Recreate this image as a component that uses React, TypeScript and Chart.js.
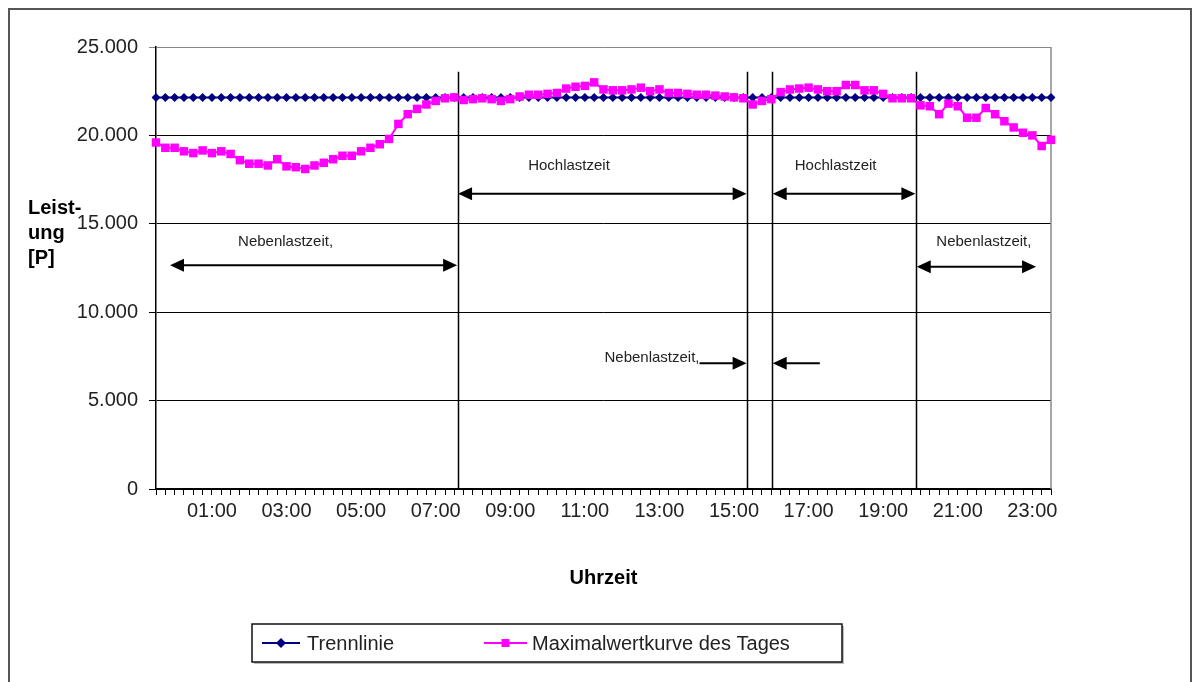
import { useEffect, useRef } from 'react';
import { Chart, registerables } from 'chart.js';

Chart.register(...registerables);

// Categories: 15-minute steps, first category is 23:30 (so 01:00 falls on index 6)
const timeLabels: string[] = [];
for (let i = 0; i <= 96; i++) {
  const m = ((i - 2) * 15 + 1440) % 1440;
  timeLabels.push(String(Math.floor(m / 60)).padStart(2, '0') + ':' + String(m % 60).padStart(2, '0'));
}

const trennlinie = [
  22150, 22150, 22150, 22150, 22150, 22150, 22150, 22150, 22150, 22150,
  22150, 22150, 22150, 22150, 22150, 22150, 22150, 22150, 22150, 22150,
  22150, 22150, 22150, 22150, 22150, 22150, 22150, 22150, 22150, 22150,
  22150, 22150, 22150, 22150, 22150, 22150, 22150, 22150, 22150, 22150,
  22150, 22150, 22150, 22150, 22150, 22150, 22150, 22150, 22150, 22150,
  22150, 22150, 22150, 22150, 22150, 22150, 22150, 22150, 22150, 22150,
  22150, 22150, 22150, 22150, 22150, 22150, 22150, 22150, 22150, 22150,
  22150, 22150, 22150, 22150, 22150, 22150, 22150, 22150, 22150, 22150,
  22150, 22150, 22150, 22150, 22150, 22150, 22150, 22150, 22150, 22150,
  22150, 22150, 22150, 22150, 22150, 22150, 22150,
];

const maximalwert = [
  19600, 19300, 19300, 19100, 19000, 19150, 19000, 19100, 18950, 18600,
  18400, 18400, 18300, 18650, 18250, 18200, 18100, 18300, 18450, 18650,
  18850, 18850, 19100, 19300, 19500, 19800, 20650, 21200, 21500, 21750,
  21950, 22100, 22150, 22000, 22050, 22100, 22050, 21950, 22050, 22200,
  22300, 22300, 22350, 22400, 22650, 22750, 22800, 23000, 22600, 22550,
  22550, 22600, 22700, 22500, 22600, 22400, 22400, 22350, 22300, 22300,
  22250, 22200, 22150, 22100, 21750, 21950, 22050, 22450, 22600, 22650,
  22700, 22600, 22500, 22500, 22850, 22850, 22550, 22550, 22350, 22100,
  22100, 22100, 21700, 21650, 21200, 21800, 21650, 21000, 21000, 21550,
  21200, 20800, 20450, 20150, 20000, 19400, 19750,
];

const seriesNames = ['Trennlinie', 'Maximalwertkurve des Tages'];

// Vertical separators (category index positions) and their top value
const dividerIdx = [32.35, 63.4, 66.1, 81.5];
const dividerTop = 23600;

// Period labels: [text, category index, value, align]
const periodLabels: [string, number, number, CanvasTextAlign][] = [
  ['Nebenlastzeit,', 13.9, 14000, 'center'],
  ['Hochlastzeit', 44.3, 18300, 'center'],
  ['Hochlastzeit', 72.9, 18300, 'center'],
  ['Nebenlastzeit,', 88.8, 14000, 'center'],
  ['Nebenlastzeit,', 58.3, 7400, 'right'],
];

// Double arrows: [from index, to index, value]
const doubleArrows: [number, number, number][] = [
  [1.5, 32.3, 12650],
  [32.4, 63.35, 16700],
  [66.15, 81.45, 16700],
  [81.6, 94.4, 12570],
];

// Single arrows: [tail index, head index, value]
const singleArrows: [number, number, number][] = [
  [58.3, 63.35, 7110],
  [71.2, 66.15, 7110],
];

const FONT = '"Liberation Sans", Arial, sans-serif';
const NAVY = '#000080';
const MAGENTA = '#FF00FF';

function fmt(v: number): string {
  return String(v).replace(/\B(?=(\d{3})+(?!\d))/g, '.');
}

function arrowHead(ctx: CanvasRenderingContext2D, tipX: number, y: number, dir: number) {
  const len = 14;
  const half = 6.5;
  ctx.beginPath();
  ctx.moveTo(tipX, y);
  ctx.lineTo(tipX - dir * len, y - half);
  ctx.lineTo(tipX - dir * len, y + half);
  ctx.closePath();
  ctx.fill();
}

const annoPlugin = {
  id: 'annoPlugin',
  beforeDatasetsDraw(chart: any) {
    const { ctx, chartArea, scales } = chart;
    const xs = scales.x;
    const ys = scales.y;
    ctx.save();
    // right plot border
    ctx.strokeStyle = '#888';
    ctx.lineWidth = 1.5;
    ctx.beginPath();
    ctx.moveTo(chartArea.right, chartArea.top);
    ctx.lineTo(chartArea.right, chartArea.bottom);
    ctx.stroke();
    // dividers
    ctx.strokeStyle = '#000';
    ctx.lineWidth = 1.5;
    dividerIdx.forEach((d) => {
      const x = Math.round(xs.getPixelForValue(d)) + 0.5;
      ctx.beginPath();
      ctx.moveTo(x, ys.getPixelForValue(dividerTop));
      ctx.lineTo(x, ys.getPixelForValue(0));
      ctx.stroke();
    });
    ctx.restore();
  },
  afterDraw(chart: any) {
    const { ctx, chartArea, scales } = chart;
    const xs = scales.x;
    const ys = scales.y;
    ctx.save();
    ctx.strokeStyle = '#000';
    ctx.fillStyle = '#000';
    ctx.lineWidth = 2;
    doubleArrows.forEach(([a, b, v]) => {
      const x1 = xs.getPixelForValue(a);
      const x2 = xs.getPixelForValue(b);
      const y = ys.getPixelForValue(v);
      ctx.beginPath();
      ctx.moveTo(x1 + 8, y);
      ctx.lineTo(x2 - 8, y);
      ctx.stroke();
      arrowHead(ctx, x1, y, -1);
      arrowHead(ctx, x2, y, 1);
    });
    singleArrows.forEach(([a, b, v]) => {
      const x1 = xs.getPixelForValue(a);
      const x2 = xs.getPixelForValue(b);
      const y = ys.getPixelForValue(v);
      const dir = x2 > x1 ? 1 : -1;
      ctx.beginPath();
      ctx.moveTo(x1, y);
      ctx.lineTo(x2 - dir * 8, y);
      ctx.stroke();
      arrowHead(ctx, x2, y, dir);
    });
    // period labels
    ctx.fillStyle = '#222';
    ctx.font = `15px ${FONT}`;
    ctx.textBaseline = 'middle';
    periodLabels.forEach(([t, i, v, al]) => {
      ctx.textAlign = al;
      ctx.fillText(t, xs.getPixelForValue(i), ys.getPixelForValue(v));
    });
    // axis titles
    ctx.fillStyle = '#000';
    ctx.font = `bold 20px ${FONT}`;
    ctx.textAlign = 'center';
    ctx.fillText('Uhrzeit', (chartArea.left + chartArea.right) / 2, 568);
    ctx.textAlign = 'left';
    ['Leist-', 'ung', '[P]'].forEach((s, k) => ctx.fillText(s, 18, 198 + k * 25));

    // legend
    const bx = 242, by = 614, bw = 590, bh = 38;
    ctx.fillStyle = '#bbb';
    ctx.fillRect(bx + 2, by + 2, bw, bh);
    ctx.fillStyle = '#fff';
    ctx.fillRect(bx, by, bw, bh);
    ctx.strokeStyle = '#111';
    ctx.lineWidth = 1.5;
    ctx.strokeRect(bx, by, bw, bh);
    const ly = by + bh / 2;
    const items = [
      { x1: 252, x2: 290, text: 297 },
      { x1: 474, x2: 517, text: 522 },
    ];
    chart.data.datasets.forEach((ds: any, k: number) => {
      const it = items[k];
      ctx.strokeStyle = ds.borderColor;
      ctx.lineWidth = 2;
      ctx.beginPath();
      ctx.moveTo(it.x1, ly);
      ctx.lineTo(it.x2, ly);
      ctx.stroke();
      ctx.fillStyle = ds.pointBackgroundColor;
      const cx = (it.x1 + it.x2) / 2;
      if (ds.pointStyle === 'rect') {
        ctx.fillRect(cx - 4, ly - 4, 8, 8);
      } else {
        ctx.beginPath();
        ctx.moveTo(cx, ly - 5);
        ctx.lineTo(cx + 5, ly);
        ctx.lineTo(cx, ly + 5);
        ctx.lineTo(cx - 5, ly);
        ctx.closePath();
        ctx.fill();
      }
      ctx.fillStyle = '#222';
      ctx.font = `20px ${FONT}`;
      ctx.textAlign = 'left';
      ctx.textBaseline = 'middle';
      ctx.fillText(ds.label, it.text, ly + 1);
    });
    ctx.restore();
  },
};

export default function App() {
  const ref = useRef<HTMLCanvasElement | null>(null);
  useEffect(() => {
    document.body.style.overflow = 'hidden';
    const canvas = ref.current;
    if (!canvas) return;
    const chart = new Chart(canvas, {
      type: 'line',
      data: {
        labels: timeLabels,
        datasets: [
          {
            label: seriesNames[0],
            data: trennlinie,
            borderColor: NAVY,
            backgroundColor: NAVY,
            pointBackgroundColor: NAVY,
            pointBorderColor: NAVY,
            pointStyle: 'rectRot',
            pointRadius: 4.5,
            pointBorderWidth: 0,
            borderWidth: 2,
            tension: 0,
            fill: false,
            order: 1,
          },
          {
            label: seriesNames[1],
            data: maximalwert,
            borderColor: MAGENTA,
            backgroundColor: MAGENTA,
            pointBackgroundColor: MAGENTA,
            pointBorderColor: MAGENTA,
            pointStyle: 'rect',
            pointRadius: 6,
            pointBorderWidth: 0,
            borderWidth: 2,
            tension: 0,
            fill: false,
            order: 0,
          },
        ],
      },
      options: {
        responsive: false,
        maintainAspectRatio: false,
        animation: false,
        events: [],
        layout: { padding: { left: 0, top: 37, right: 139, bottom: 181 } },
        plugins: { legend: { display: false }, tooltip: { enabled: false } },
        scales: {
          x: {
            type: 'category',
            offset: false,
            grid: {
              offset: false,
              drawOnChartArea: false,
              drawTicks: true,
              tickLength: 6,
              color: '#000',
              lineWidth: 1,
            },
            border: { color: '#000', width: 1.5 },
            ticks: {
              autoSkip: false,
              maxRotation: 0,
              minRotation: 0,
              padding: 4,
              color: '#222',
              font: { family: FONT, size: 20 },
              callback: (_v: any, i: number) => (i % 8 === 6 ? timeLabels[i] : ''),
            },
            afterFit: (s: any) => {
              s.height = 40;
            },
          },
          y: {
            min: 0,
            max: 25000,
            grid: {
              color: (c: any) => (c.tick && c.tick.value === 25000 ? '#888' : '#000'),
              lineWidth: 1,
              tickLength: 7,
            },
            border: { color: '#000', width: 1.5 },
            ticks: {
              stepSize: 5000,
              padding: 11,
              color: '#222',
              font: { family: FONT, size: 20 },
              callback: (v: any) => fmt(Number(v)),
            },
            afterFit: (s: any) => {
              s.width = 146;
            },
          },
        },
      } as any,
      plugins: [annoPlugin],
    });
    return () => chart.destroy();
  }, []);

  return (
    <div
      style={{
        position: 'fixed',
        left: 8,
        top: 8,
        width: 1184,
        height: 720,
        border: '2px solid #555',
        boxSizing: 'border-box',
        background: '#fff',
      }}
    >
      <canvas ref={ref} width={1180} height={700} style={{ display: 'block' }} />
    </div>
  );
}
